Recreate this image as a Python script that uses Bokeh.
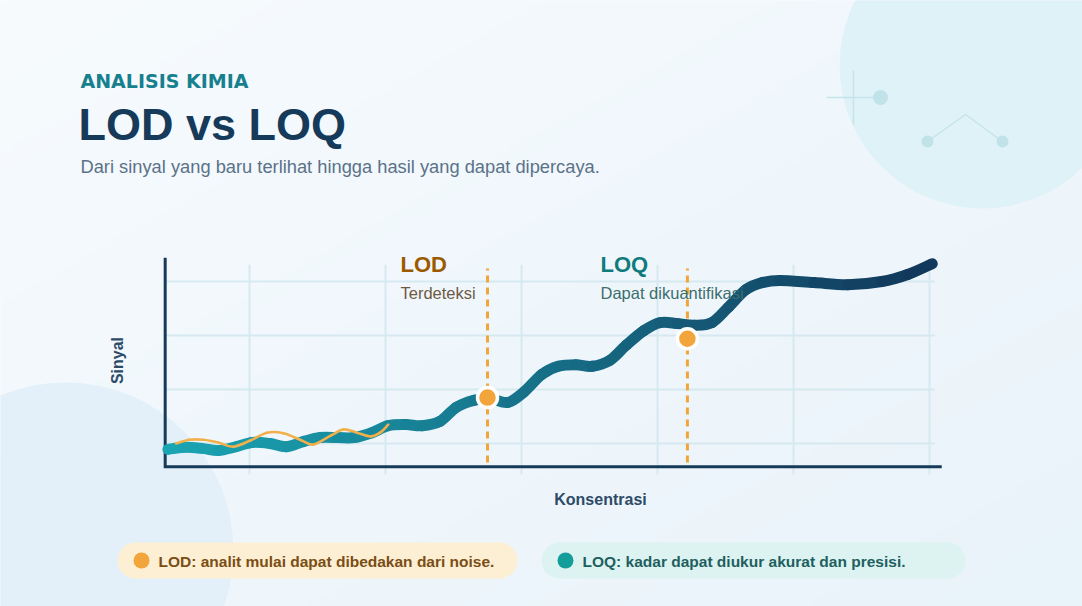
import numpy as np
from bokeh.plotting import figure
from bokeh.models import Range1d
from bokeh.core.properties import value
from bokeh.embed import file_html
from bokeh.resources import INLINE

W, H = 1082, 606
FONT = value("Liberation Sans")

# ---- data -------------------------------------------------------------
# response curve: signal (Sinyal) against concentration (Konsentrasi)
konsentrasi = [0.40, 0.52, 0.65, 0.77, 0.90, 1.02, 1.15, 1.27, 1.40, 1.52,
               1.65, 1.77, 1.90, 2.02, 2.15, 2.27, 2.40, 2.52, 2.65, 2.77,
               2.90, 3.02, 3.15, 3.27, 3.40, 3.52, 3.65, 3.77, 3.90, 4.02,
               4.15, 4.27, 4.40, 4.52, 4.65, 4.77, 4.90, 5.15, 5.40, 5.65,
               5.84, 6.02]
sinyal = [0.89, 0.93, 0.91, 0.87, 0.94, 1.02, 1.00, 0.94, 1.04, 1.11,
          1.11, 1.11, 1.20, 1.33, 1.35, 1.33, 1.41, 1.67, 1.80, 1.83,
          1.76, 1.96, 2.28, 2.43, 2.46, 2.43, 2.54, 2.82, 3.09, 3.24,
          3.22, 3.19, 3.24, 3.52, 3.85, 3.98, 4.02, 3.98, 3.94, 4.00,
          4.13, 4.33]

# baseline noise trace
noise_konsentrasi = [0.46, 0.56, 0.66, 0.77, 0.88, 1.01, 1.13, 1.25, 1.38,
                     1.47, 1.60, 1.69, 1.79, 1.89, 1.96, 2.02]
noise_sinyal = [1.00, 1.07, 1.07, 1.02, 0.94, 1.06, 1.20, 1.19, 1.06,
                0.98, 1.15, 1.26, 1.20, 1.13, 1.20, 1.35]

# limits
batas_nama = ["LOD", "LOQ"]
batas_konsentrasi = [2.75, 4.22]
batas_sinyal = [1.85, 2.94]
batas_keterangan = ["Terdeteksi", "Dapat dikuantifikasi"]

# grid positions
grid_konsentrasi = [1, 2, 3, 4, 5, 6]
grid_sinyal = [1, 2, 3, 4]

# ---- chart coordinate placement on the page --------------------------
CX0, CXU = 113.0, 136.0   # page x of konsentrasi 0, px per unit
SY0, SYU = 497.0, 54.0    # page y of sinyal 0, px per unit
C_AXIS, C_END = 0.38, 6.09
S_AXIS, S_END = 0.57, 4.44


def smooth_pieces(xs, ys):
    """Cubic Bezier pieces through the given points (Catmull-Rom tangents)."""
    x = np.asarray(xs, float)
    y = np.asarray(ys, float)
    xp = np.concatenate([[x[0]], x, [x[-1]]])
    yp = np.concatenate([[y[0]], y, [y[-1]]])
    n = len(x) - 1
    cx0 = x[:-1] + (xp[2:n + 2] - xp[0:n]) / 6
    cy0 = y[:-1] + (yp[2:n + 2] - yp[0:n]) / 6
    cx1 = x[1:] - (xp[3:n + 3] - xp[1:n + 1]) / 6
    cy1 = y[1:] - (yp[3:n + 3] - yp[1:n + 1]) / 6
    return dict(x0=x[:-1], y0=y[:-1], x1=x[1:], y1=y[1:],
                cx0=cx0, cy0=cy0, cx1=cx1, cy1=cy1)


p = figure(width=W, height=H, x_range=Range1d(0, W), y_range=Range1d(H, 0),
           output_backend="svg", toolbar_location=None,
           x_axis_location=None, y_axis_location=None, min_border=0,
           outline_line_color=None, background_fill_color="#f0f7fc",
           border_fill_color="#f0f7fc")
for g in p.grid:
    g.visible = False

p.extra_x_ranges = {"konz": Range1d(-CX0 / CXU, (W - CX0) / CXU)}
p.extra_y_ranges = {"sig": Range1d((SY0 - H) / SYU, SY0 / SYU)}
CH = dict(x_range_name="konz", y_range_name="sig")

# ---- soft diagonal background ----------------------------------------
ny, nx = 120, 200
yy, xx = np.mgrid[0:ny, 0:nx]
t = (xx / (nx - 1) + yy / (ny - 1)) / 2.0
c0 = np.array([247, 251, 254])
c1 = np.array([233, 243, 250])
rgb = c0[None, None, :] * (1 - t[..., None]) + c1[None, None, :] * t[..., None]
img = np.empty((ny, nx), dtype=np.uint32)
view = img.view(dtype=np.uint8).reshape((ny, nx, 4))
view[..., 0] = rgb[..., 0]
view[..., 1] = rgb[..., 1]
view[..., 2] = rgb[..., 2]
view[..., 3] = 255
p.image_rgba(image=[img], x=0, y=0, dw=W, dh=H)

# decorative circles
p.circle(x=[982], y=[65], radius=143, fill_color="#dff2f7", line_color=None)
p.circle(x=[65], y=[550], radius=168, fill_color="#e3f0f9", line_color=None)

# small molecule-like ornaments, top right
deco = "#c4e4eb"
p.segment(x0=[826, 853], y0=[97, 70], x1=[874, 853], y1=[97, 124],
          line_color=deco, line_width=1.5)
p.line(x=[927, 965, 1002], y=[141, 114, 141], line_color=deco, line_width=1.5)
p.circle(x=[880], y=[97], radius=7.5, fill_color="#c0e2e9", line_color=None)
p.circle(x=[927, 1002], y=[141, 141], radius=6, fill_color="#c0e2e9",
         line_color=None)

# ---- header -------------------------------------------------------------
p.text(x=[80], y=[80], text=["ANALISIS KIMIA"], text_font=value("DejaVu Sans"),
       text_font_size="19px", text_font_style="bold", text_color="#17808f",
       text_baseline="middle")
p.text(x=[78], y=[124], text=["LOD vs LOQ"], text_font=FONT,
       text_font_size="45px", text_font_style="bold", text_color="#163a5a",
       text_baseline="middle")
p.text(x=[80], y=[166],
       text=["Dari sinyal yang baru terlihat hingga hasil yang dapat dipercaya."],
       text_font=FONT, text_font_size="18.3px", text_color="#5b7288",
       text_baseline="middle")

# ---- chart --------------------------------------------------------------
grid_color = "#d6e9f0"
p.segment(x0=grid_konsentrasi, y0=[0.43] * len(grid_konsentrasi),
          x1=grid_konsentrasi, y1=[4.31] * len(grid_konsentrasi),
          line_color=grid_color, line_width=2, **CH)
p.segment(x0=[C_AXIS] * len(grid_sinyal), y0=grid_sinyal,
          x1=[6.04] * len(grid_sinyal), y1=grid_sinyal,
          line_color=grid_color, line_width=2, **CH)

# limit markers (dashed)
p.segment(x0=batas_konsentrasi, y0=[0.65, 0.65], x1=batas_konsentrasi,
          y1=[4.24, 4.24], line_color="#f2a53a", line_width=3,
          line_dash="7 5", **CH)

# axes
p.line(x=[C_AXIS, C_AXIS, C_END], y=[S_END, S_AXIS, S_AXIS],
       line_color="#163a5a", line_width=3, line_join="miter", **CH)

# response curve with teal -> navy gradient
kc = np.array(konsentrasi)
pieces = smooth_pieces(konsentrasi, sinyal)
mid = (pieces["x0"] + pieces["x1"]) / 2
f = (mid - kc.min()) / (kc.max() - kc.min())
a = np.array([26, 166, 180])
b = np.array([18, 55, 90])
cols = ["#%02x%02x%02x" % tuple(int(round(v)) for v in a * (1 - q) + b * q)
        for q in f]
p.bezier(**pieces, line_color=cols, line_width=11, line_cap="round", **CH)

# noise
p.bezier(**smooth_pieces(noise_konsentrasi, noise_sinyal),
         line_color="#f2b04c", line_width=2.6, line_cap="round", **CH)

# limit points
p.scatter(x=batas_konsentrasi, y=batas_sinyal, size=20, fill_color="#f2a53a",
          line_color="white", line_width=3.5, **CH)

# limit captions
p.text(x=[400, 600], y=[264, 264], text=batas_nama, text_font=FONT,
       text_font_size="22px", text_font_style="bold",
       text_color=["#9c5a00", "#0f7b7d"], text_baseline="middle")
p.text(x=[400, 600], y=[292, 292], text=batas_keterangan, text_font=FONT,
       text_font_size="16.5px", text_color=["#6e5a44", "#3b6e6e"],
       text_baseline="middle")

# axis titles
p.text(x=[600], y=[499], text=["Konsentrasi"], text_font=FONT,
       text_font_size="16px", text_font_style="bold", text_color="#2d4b68",
       text_align="center", text_baseline="middle")
p.text(x=[117], y=[360], text=["Sinyal"], text_font=FONT,
       text_font_size="16px", text_font_style="bold", text_color="#2d4b68",
       text_align="center", text_baseline="middle", angle=np.pi / 2)

# ---- legend pills -------------------------------------------------------
pills = [
    dict(l=117, r=517, bg="#fdefd4", dot="#f2a53a", fg="#7a4e14",
         txt="LOD: analit mulai dapat dibedakan dari noise."),
    dict(l=541, r=965, bg="#dcf3f1", dot="#149e9a", fg="#1f5f5f",
         txt="LOQ: kadar dapat diukur akurat dan presisi."),
]
top, bot = 542, 578
rad = (bot - top) / 2
cy = (top + bot) / 2
for pl in pills:
    p.quad(left=[pl["l"] + rad], right=[pl["r"] - rad], top=[top],
           bottom=[bot], fill_color=pl["bg"], line_color=None)
    p.circle(x=[pl["l"] + rad, pl["r"] - rad], y=[cy, cy], radius=rad,
             fill_color=pl["bg"], line_color=None)
    p.circle(x=[pl["l"] + 24], y=[cy], radius=8, fill_color=pl["dot"],
             line_color=None)
    p.text(x=[pl["l"] + 41], y=[cy + 1], text=[pl["txt"]], text_font=FONT,
           text_font_size="15.5px", text_font_style="bold",
           text_color=pl["fg"], text_baseline="middle")

open("out.html", "w").write(file_html(p, INLINE))
